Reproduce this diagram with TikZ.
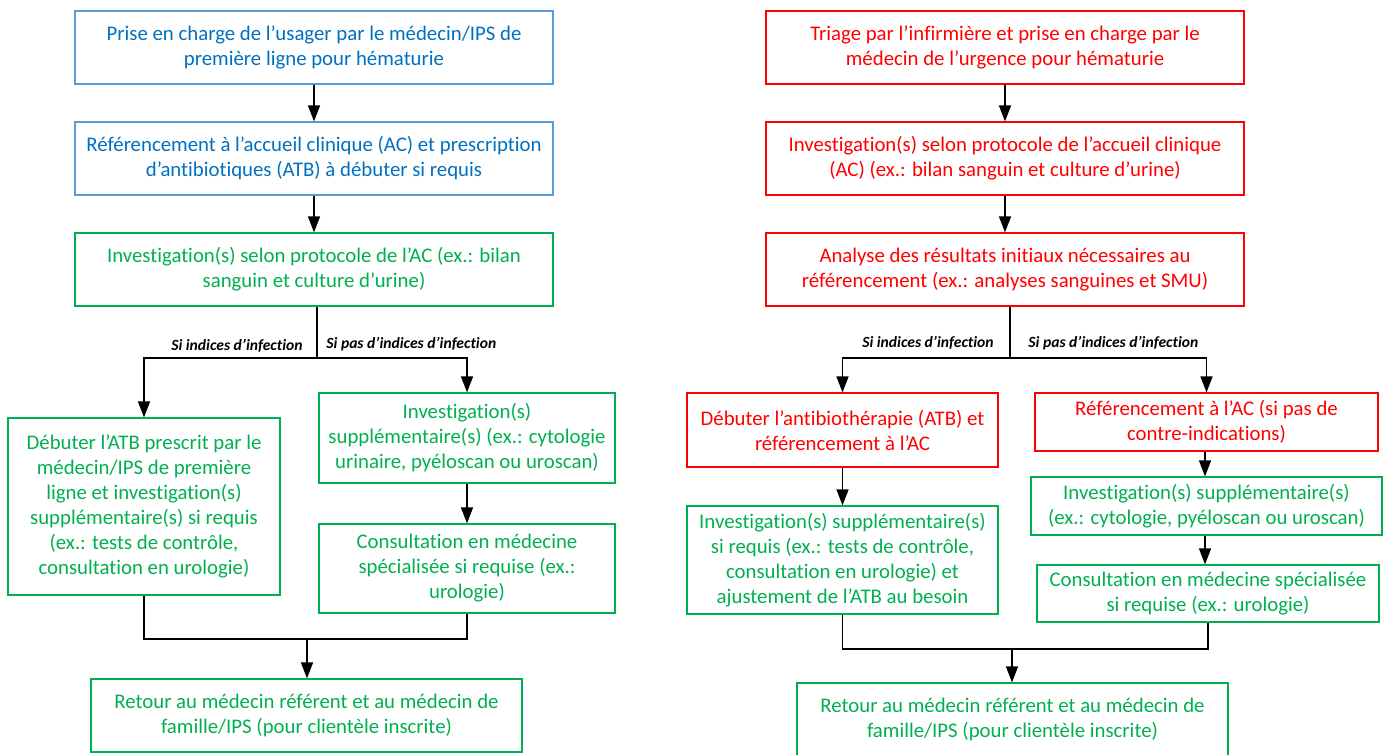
\documentclass[tikz,border=0pt]{standalone}
\usepackage{fontspec}
\setmainfont{Carlito}[Ligatures=NoCommon]
\usetikzlibrary{arrows.meta}
\definecolor{cblue}{HTML}{0070C0}
\definecolor{cblueb}{HTML}{5B9BD5}
\definecolor{cgreen}{HTML}{00B050}
\definecolor{cred}{HTML}{FF0000}
\begin{document}
\begin{tikzpicture}[x=0.5pt,y=-0.5pt,
  box/.style={draw,rectangle,line width=0.6pt,inner sep=0pt,align=center,font=\fontsize{10.4}{12.5}\selectfont},
  bluebox/.style={box,draw=cblueb,text=cblue},
  greenbox/.style={box,draw=cgreen,text=cgreen},
  redbox/.style={box,draw=cred,text=cred},
  conn/.style={line width=0.7pt,black},
  arr/.style={conn,-{Triangle[length=8pt,width=6pt]}},
  lbl/.style={inner sep=0pt,font=\fontsize{7.8}{9}\selectfont\bfseries\itshape}]
\useasboundingbox (0,0) rectangle (1385,754);
% left column
\node[bluebox,minimum width=239pt,minimum height=36.5pt] (B1) at (314,47.5) {Prise en charge de l’usager par le médecin/IPS de\\première ligne pour hématurie};
\node[bluebox,minimum width=239pt,minimum height=36.5pt] (B2) at (314,158.5) {Référencement à l’accueil clinique (AC) et prescription\\d’antibiotiques (ATB) à débuter si requis};
\node[greenbox,minimum width=239pt,minimum height=36.5pt] (B3) at (314,269.5) {Investigation(s) selon protocole de l’AC (ex.: bilan\\sanguin et culture d’urine)};
\node[greenbox,minimum width=136pt,minimum height=88.5pt] (B4) at (144,506.5) {Débuter l’ATB prescrit par le\\médecin/IPS de première\\ligne et investigation(s)\\supplémentaire(s) si requis\\(ex.: tests de contrôle,\\consultation en urologie)};
\node[greenbox,minimum width=148pt,minimum height=45pt] (B5) at (467,438) {Investigation(s)\\supplémentaire(s) (ex.: cytologie\\urinaire, pyéloscan ou uroscan)};
\node[greenbox,minimum width=148pt,minimum height=44.5pt] (B6) at (467,568.5) {Consultation en médecine\\spécialisée si requise (ex.:\\urologie)};
\node[greenbox,minimum width=215.5pt,minimum height=36.5pt] (B7) at (306.5,715.5) {Retour au médecin référent et au médecin de\\famille/IPS (pour clientèle inscrite)};
% right column
\node[redbox,minimum width=239pt,minimum height=36.5pt] (R1) at (1005,47.5) {Triage par l’infirmière et prise en charge par le\\médecin de l’urgence pour hématurie};
\node[redbox,minimum width=239pt,minimum height=36.5pt] (R2) at (1005,158.5) {Investigation(s) selon protocole de l’accueil clinique\\(AC) (ex.: bilan sanguin et culture d’urine)};
\node[redbox,minimum width=239pt,minimum height=36.5pt] (R3) at (1005,269.5) {Analyse des résultats initiaux nécessaires au\\référencement (ex.: analyses sanguines et SMU)};
\node[redbox,minimum width=155.5pt,minimum height=37pt] (R4) at (842.5,430) {Débuter l’antibiothérapie (ATB) et\\référencement à l’AC};
\node[redbox,minimum width=171.5pt,minimum height=29pt] (R5) at (1206.5,422) {Référencement à l’AC (si pas de\\contre-indications)};
\node[greenbox,minimum width=175.5pt,minimum height=29pt] (R6) at (1206.5,506) {Investigation(s) supplémentaire(s)\\(ex.: cytologie, pyéloscan ou uroscan)};
\node[greenbox,minimum width=171pt,minimum height=28.5pt] (R7) at (1208,593.5) {Consultation en médecine spécialisée\\si requise (ex.: urologie)};
\node[greenbox,minimum width=155.5pt,minimum height=54pt] (R8) at (842.5,560) {Investigation(s) supplémentaire(s)\\si requis (ex.: tests de contrôle,\\consultation en urologie) et\\ajustement de l’ATB au besoin};
\node[greenbox,minimum width=215.5pt,minimum height=36.5pt] (R9) at (1012.5,719.5) {Retour au médecin référent et au médecin de\\famille/IPS (pour clientèle inscrite)};
% labels
\node[lbl,anchor=east] (L1) at (303,346) {Si indices d’infection};
\node[lbl,anchor=west] (L2) at (326,344) {Si pas d’indices d’infection};
\node[lbl,anchor=east] (L3) at (994,343) {Si indices d’infection};
\node[lbl,anchor=west] (L4) at (1028,343) {Si pas d’indices d’infection};
% coordinates
\coordinate (s1) at (317,358);
\coordinate (s2) at (1010,358);
\coordinate (m1) at (307,639);
\coordinate (m2) at (1012,649);
% left connectors
\draw[arr] (B1) -- (B2);
\draw[arr] (B2) -- (B3);
\draw[conn] (B3.south -| s1) -- (s1);
\draw[arr] (s1) -| (B4.north);
\draw[arr] (s1) -| (B5.north);
\draw[arr] (B5) -- (B6);
\draw[conn] (B4.south) |- (m1);
\draw[conn] (B6.south) |- (m1);
\draw[arr] (m1) -- (B7.north -| m1);
% right connectors
\draw[arr] (R1) -- (R2);
\draw[arr] (R2) -- (R3);
\draw[conn] (R3.south -| s2) -- (s2);
\draw[arr] (s2) -| (R4.north);
\draw[arr] (s2) -| (R5.north);
\draw[arr] (R4) -- (R8);
\draw[arr] (R5.south -| 1205,0) -- (R6.north -| 1205,0);
\draw[arr] (R6.south -| 1205,0) -- (R7.north -| 1205,0);
\draw[conn] (R8.south) |- (m2);
\draw[conn] (R7.south) |- (m2);
\draw[arr] (m2) -- (R9.north -| m2);
\end{tikzpicture}
\end{document}
